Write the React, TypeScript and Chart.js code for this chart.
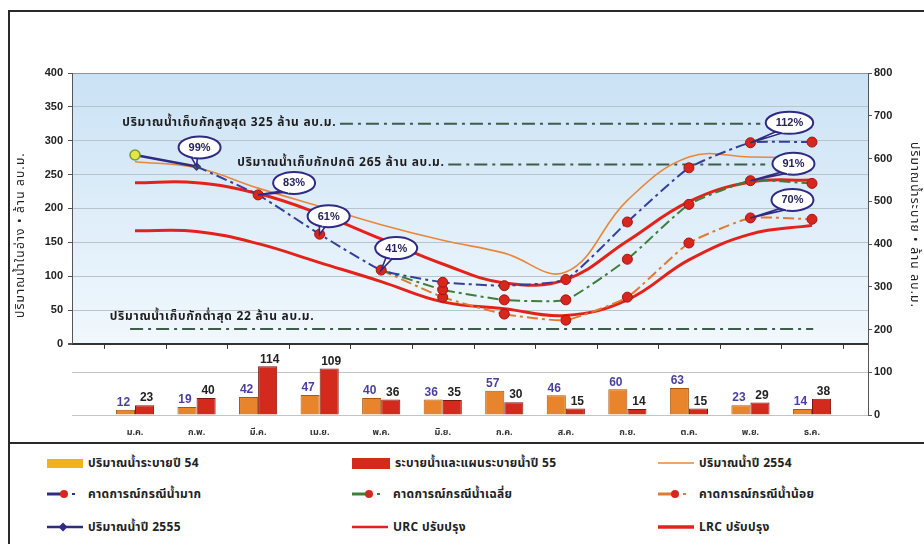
import React, { useEffect, useRef } from 'react';
import { Chart, registerables } from 'chart.js';

Chart.register(...registerables);

// ---------------- data ----------------
const MONTHS = ['ม.ค.', 'ก.พ.', 'มี.ค.', 'เม.ย.', 'พ.ค.', 'มิ.ย.', 'ก.ค.', 'ส.ค.', 'ก.ย.', 'ต.ค.', 'พ.ย.', 'ธ.ค.'];
const RELEASE_54 = [12, 19, 42, 47, 40, 36, 57, 46, 60, 63, 23, 14];
const RELEASE_55 = [23, 40, 114, 109, 36, 35, 30, 15, 14, 15, 29, 38];
const VOLUME_2554 = [269, 260, 230, 203, 176, 153, 134, 106, 212, 276, 276, 274];
const VOLUME_2555 = [279, 262, null, null, null, null, null, null, null, null, null, null];
const FORECAST_HIGH = [null, 262, 220, 162, 109, 91, 86, 95, 180, 260, 297, 298];
const FORECAST_AVG = [null, null, null, null, 109, 80, 65, 65, 125, 206, 241, 237];
const FORECAST_LOW = [null, null, null, null, 109, 69, 44, 35, 69, 149, 186, 184];
const URC_CURVE = [238, 238, 222, 192, 155, 118, 90, 95, 152, 210, 239, 242];
const LRC_CURVE = [167, 166, 148, 120, 92, 62, 52, 42, 65, 124, 162, 175];
const NORMAL_STORAGE = 265;
const REF_VALUES = [325, 265, 22];
const REF_LABELS = [
  'ปริมาณน้ำเก็บกักสูงสุด 325 ล้าน ลบ.ม.',
  'ปริมาณน้ำเก็บกักปกติ 265 ล้าน ลบ.ม.',
  'ปริมาณน้ำเก็บกักต่ำสุด 22 ล้าน ลบ.ม.',
];
const LEFT_TICK_STEP = 50;
const RIGHT_TICK_STEP = 100;
const CALLOUT_SERIES = ['high', 'high', 'high', 'high', 'high', 'avg', 'low'];
const CALLOUT_MONTHS = [1, 2, 3, 4, 10, 10, 10];

const NAMES = {
  rel54: 'ปริมาณน้ำระบายปี 54',
  rel55: 'ระบายน้ำและแผนระบายน้ำปี 55',
  v2554: 'ปริมาณน้ำปี 2554',
  high: 'คาดการณ์กรณีน้ำมาก',
  avg: 'คาดการณ์กรณีน้ำเฉลี่ย',
  low: 'คาดการณ์กรณีน้ำน้อย',
  v2555: 'ปริมาณน้ำปี 2555',
  urc: 'URC ปรับปรุง',
  lrc: 'LRC ปรับปรุง',
};

// ---------------- layout / style ----------------
const X_MIN = -1.024;
const X_MAX = 11.91;
const LEFT_MIN = -105;
const LEFT_MAX = 400;
const RIGHT_MAX = 800;
const REF_SPANS = [[3.33, 10.16], [5.09, 10.24], [-0.08, 11.02]];
const REF_TEXT = [
  { align: 'right', x: 3.27, dy: 2 },
  { align: 'right', x: 5.03, dy: 2 },
  { align: 'left', x: -0.41, dy: -9 },
];
const CALLOUT_OFFSETS = [[3, -19], [36, -12], [9, -18], [15, -22], [39, -20], [43, -17], [42, -18]];

const NUM_FONT = "'Liberation Sans Narrow', 'Liberation Sans', Arial, sans-serif";
const THAI_FONT = "Tahoma, 'Noto Sans Thai', 'Noto Sans Thai UI', Garuda, Loma, Kinnari, 'DejaVu Sans', sans-serif";

const C = {
  orangeBar: '#e8842c',
  orangeBarEdge: '#a9560f',
  redBar: '#d42a1e',
  redBarEdge: '#7d1610',
  line2554: '#e8873a',
  rule: '#e3231b',
  navy: '#2f2a84',
  high: '#33409a',
  avg: '#3f7d3a',
  low: '#e07a2e',
  ref: '#3e5c48',
  dot: '#d7261e',
  dotEdge: '#a8140f',
  legendYellow: '#f2b21c',
};

const pts = (arr: (number | null)[]) =>
  arr.map((v, i) => (v == null ? null : { x: i, y: v })).filter(Boolean) as { x: number; y: number }[];

const seriesValues: Record<string, (number | null)[]> = {
  high: FORECAST_HIGH,
  avg: FORECAST_AVG,
  low: FORECAST_LOW,
};

function drawCallout(ctx: CanvasRenderingContext2D, px: number, py: number, cx: number, cy: number, text: string) {
  ctx.font = `bold 11px ${NUM_FONT}`;
  const tw = ctx.measureText(text).width;
  const rx = tw / 2 + 10;
  const ry = 11;
  const bx1 = cx - rx * 0.45;
  const bx2 = cx - rx * 0.1;
  const by = cy + ry * 0.7;
  ctx.beginPath();
  ctx.moveTo(bx1, by);
  ctx.lineTo(px, py);
  ctx.lineTo(bx2, by + 1);
  ctx.closePath();
  ctx.fillStyle = '#ffffff';
  ctx.fill();
  ctx.strokeStyle = C.navy;
  ctx.lineWidth = 1.6;
  ctx.stroke();
  ctx.beginPath();
  ctx.ellipse(cx, cy, rx, ry, 0, 0, Math.PI * 2);
  ctx.fillStyle = '#ffffff';
  ctx.fill();
  ctx.lineWidth = 2;
  ctx.stroke();
  ctx.beginPath();
  ctx.moveTo(bx1 + 2, by - 3);
  ctx.lineTo(bx2 - 1, by - 3);
  ctx.lineTo((bx1 + bx2) / 2, by + 3);
  ctx.closePath();
  ctx.fillStyle = '#ffffff';
  ctx.fill();
  ctx.fillStyle = '#26235e';
  ctx.textAlign = 'center';
  ctx.textBaseline = 'middle';
  ctx.fillText(text, cx, cy + 0.5);
}

const overlayPlugin = {
  id: 'overlay',
  beforeDraw(chart: any) {
    const { ctx, chartArea: a, scales } = chart;
    const y0 = scales.y.getPixelForValue(0);
    const g = ctx.createLinearGradient(0, a.top, 0, y0);
    g.addColorStop(0, '#cae2f5');
    g.addColorStop(1, '#f1f8fd');
    ctx.save();
    ctx.fillStyle = g;
    ctx.fillRect(a.left, a.top, a.right - a.left, y0 - a.top);
    ctx.restore();
  },
  afterDatasetsDraw(chart: any) {
    const { ctx, chartArea: a, scales } = chart;
    const xs = scales.x;
    const ys = scales.y;
    const y0 = ys.getPixelForValue(0);
    ctx.save();

    ctx.strokeStyle = '#555';
    ctx.lineWidth = 1;
    ctx.beginPath();
    ctx.moveTo(a.left + 0.5, a.top);
    ctx.lineTo(a.left + 0.5, y0);
    ctx.stroke();

    ctx.strokeStyle = '#333';
    for (let i = 0; i <= MONTHS.length; i++) {
      const px = Math.round(xs.getPixelForValue(i - 0.5)) + 0.5;
      ctx.beginPath();
      ctx.moveTo(px, y0);
      ctx.lineTo(px, y0 + 5);
      ctx.stroke();
    }

    const barSets = [
      { idx: chart.data.datasets.findIndex((d: any) => d.label === NAMES.rel54), vals: RELEASE_54, color: '#4b3f9e', dx: -2 },
      { idx: chart.data.datasets.findIndex((d: any) => d.label === NAMES.rel55), vals: RELEASE_55, color: '#222222', dx: 2 },
    ];
    ctx.font = `bold 12px ${NUM_FONT}`;
    ctx.textAlign = 'center';
    ctx.textBaseline = 'bottom';
    barSets.forEach((b) => {
      const meta = chart.getDatasetMeta(b.idx);
      meta.data.forEach((el: any, i: number) => {
        ctx.fillStyle = b.color;
        ctx.fillText(String(b.vals[i]), el.x + b.dx, el.y - 1);
      });
    });

    ctx.font = `bold 12px ${THAI_FONT}`;
    (ctx as any).letterSpacing = '0.7px';
    ctx.fillStyle = '#1d1d1d';
    ctx.textBaseline = 'alphabetic';
    REF_VALUES.forEach((v, i) => {
      const t = REF_TEXT[i];
      ctx.textAlign = t.align as CanvasTextAlign;
      ctx.fillText(REF_LABELS[i], xs.getPixelForValue(t.x), ys.getPixelForValue(v) + t.dy);
    });
    (ctx as any).letterSpacing = '0px';

    CALLOUT_SERIES.forEach((s, i) => {
      const m = CALLOUT_MONTHS[i];
      const v = seriesValues[s][m] as number;
      const px = xs.getPixelForValue(m);
      const py = ys.getPixelForValue(v);
      const [dx, dy] = CALLOUT_OFFSETS[i];
      drawCallout(ctx, px, py, px + dx, py + dy, `${Math.round((v / NORMAL_STORAGE) * 100)}%`);
    });

    ctx.fillStyle = '#222';
    ctx.font = `12px ${THAI_FONT}`;
    (ctx as any).letterSpacing = '1.2px';
    ctx.textAlign = 'center';
    ctx.textBaseline = 'middle';
    ctx.save();
    ctx.translate(22, 235);
    ctx.rotate(-Math.PI / 2);
    ctx.fillText('ปริมาณน้ำในอ่าง • ล้าน ลบ.ม.', 0, 0);
    ctx.restore();
    ctx.save();
    ctx.translate(913, 225);
    ctx.rotate(Math.PI / 2);
    ctx.fillText('ปริมาณน้ำระบาย • ล้าน ลบ.ม.', 0, 0);
    ctx.restore();
    (ctx as any).letterSpacing = '0px';

    ctx.restore();
  },
};

function LegendSwatch({ kind }: { kind: string }) {
  if (kind === 'rel54') return <div style={{ width: 36, height: 9, background: C.legendYellow }} />;
  if (kind === 'rel55') return <div style={{ width: 38, height: 11, background: C.redBar }} />;
  const line = (color: string, w: number, len = 36) => (
    <svg width={36} height={12} style={{ display: 'block' }}>
      <line x1={0} y1={6} x2={len} y2={6} stroke={color} strokeWidth={w} />
    </svg>
  );
  if (kind === 'v2554') return line(C.line2554, 1.5);
  if (kind === 'urc') return line(C.rule, 2.5);
  if (kind === 'lrc') return line(C.rule, 3.5);
  if (kind === 'v2555')
    return (
      <svg width={36} height={12} style={{ display: 'block' }}>
        <line x1={0} y1={6} x2={36} y2={6} stroke={C.navy} strokeWidth={2.5} />
        <polygon points="16,1.5 20.5,6 16,10.5 11.5,6" fill={C.navy} />
      </svg>
    );
  const col = kind === 'high' ? C.navy : kind === 'avg' ? C.avg : C.low;
  return (
    <svg width={36} height={12} style={{ display: 'block' }}>
      <line x1={0} y1={6} x2={17} y2={6} stroke={col} strokeWidth={3} />
      <circle cx={17} cy={6} r={4} fill={C.dot} />
      <line x1={25} y1={6} x2={28} y2={6} stroke={col} strokeWidth={2} />
    </svg>
  );
}

const LEGEND_ROWS = [
  ['rel54', 'rel55', 'v2554'],
  ['high', 'avg', 'low'],
  ['v2555', 'urc', 'lrc'],
];
const LEGEND_COL_X = [47, 352, 658];
const LEGEND_ROW_Y = [463, 494, 527];

export default function App() {
  const ref = useRef<HTMLCanvasElement>(null);

  useEffect(() => {
    document.body.style.margin = '0';
    const canvas = ref.current as HTMLCanvasElement;
    Chart.defaults.font.family = NUM_FONT;

    const forecastDs = (label: string, vals: (number | null)[], color: string, hideFirst: boolean) => ({
      type: 'line' as const,
      label,
      data: pts(vals),
      yAxisID: 'y',
      borderColor: color,
      borderWidth: 2,
      borderDash: [11, 4, 3, 4],
      tension: 0.15,
      pointRadius: pts(vals).map((_, i) => (hideFirst && i === 0 ? 0 : 5)),
      pointBackgroundColor: C.dot,
      pointBorderColor: C.dotEdge,
      pointBorderWidth: 1,
    });

    const refDs = REF_VALUES.map((v, i) => ({
      type: 'line' as const,
      label: REF_LABELS[i],
      data: [
        { x: REF_SPANS[i][0], y: v },
        { x: REF_SPANS[i][1], y: v },
      ],
      yAxisID: 'y',
      borderColor: C.ref,
      borderWidth: 2,
      borderDash: [13, 5, 3, 5],
      pointRadius: 0,
    }));

    const chart = new Chart(canvas, {
      type: 'bar',
      data: {
        datasets: [
          forecastDs(NAMES.high, FORECAST_HIGH, C.high, true),
          forecastDs(NAMES.avg, FORECAST_AVG, C.avg, true),
          forecastDs(NAMES.low, FORECAST_LOW, C.low, true),
          {
            type: 'line',
            label: NAMES.v2555,
            data: pts(VOLUME_2555),
            yAxisID: 'y',
            borderColor: C.navy,
            borderWidth: 2.5,
            pointStyle: ['circle', 'rectRot'],
            pointRadius: [5, 3.5],
            pointBackgroundColor: ['#e4e646', '#5a5a7a'],
            pointBorderColor: ['#7a9a2a', '#3a3a5a'],
            pointBorderWidth: 1.5,
          },
          {
            type: 'line',
            label: NAMES.urc,
            data: pts(URC_CURVE),
            yAxisID: 'y',
            borderColor: C.rule,
            borderWidth: 3,
            tension: 0.4,
            pointRadius: 0,
          },
          {
            type: 'line',
            label: NAMES.lrc,
            data: pts(LRC_CURVE),
            yAxisID: 'y',
            borderColor: C.rule,
            borderWidth: 3,
            tension: 0.4,
            pointRadius: 0,
          },
          {
            type: 'line',
            label: NAMES.v2554,
            data: pts(VOLUME_2554),
            yAxisID: 'y',
            borderColor: C.line2554,
            borderWidth: 1.6,
            tension: 0.4,
            pointRadius: 0,
          },
          ...refDs,
          {
            type: 'bar',
            label: NAMES.rel54,
            data: pts(RELEASE_54),
            yAxisID: 'y2',
            backgroundColor: C.orangeBar,
            borderColor: C.orangeBarEdge,
            borderWidth: 1,
            categoryPercentage: 0.62,
            barPercentage: 1,
          },
          {
            type: 'bar',
            label: NAMES.rel55,
            data: pts(RELEASE_55),
            yAxisID: 'y2',
            backgroundColor: C.redBar,
            borderColor: C.redBarEdge,
            borderWidth: 1,
            categoryPercentage: 0.62,
            barPercentage: 1,
          },
        ] as any,
      },
      options: {
        responsive: false,
        animation: false,
        layout: { padding: { top: 73, left: 0, right: 0, bottom: 0 } },
        plugins: {
          legend: { display: false },
          tooltip: { enabled: false },
        },
        scales: {
          x: {
            type: 'linear',
            offset: false,
            min: X_MIN,
            max: X_MAX,
            afterBuildTicks: (s: any) => {
              s.ticks = MONTHS.map((_, i) => ({ value: i }));
            },
            afterFit: (s: any) => {
              s.height = 25;
            },
            ticks: {
              autoSkip: false,
              maxRotation: 0,
              padding: 13,
              color: '#333',
              font: { size: 9, weight: 'bold', family: THAI_FONT },
              callback: (v: any) => MONTHS[Math.round(Number(v))] ?? '',
            },
            grid: { display: false, drawTicks: false, offset: false },
            border: { display: false },
          },
          y: {
            type: 'linear',
            position: 'left',
            min: LEFT_MIN,
            max: LEFT_MAX,
            afterFit: (s: any) => {
              s.width = 72;
            },
            ticks: {
              stepSize: LEFT_TICK_STEP,
              padding: 5,
              color: '#222',
              font: { size: 11, weight: 'bold' },
              callback: (v: any) => (Number(v) >= 0 ? String(v) : ''),
            },
            grid: {
              tickLength: 4,
              color: (c: any) => {
                const v = c.tick?.value;
                if (v == null || v < 0) return 'rgba(0,0,0,0)';
                if (v === 0) return '#333';
                if (v === LEFT_MAX) return '#8a949c';
                return '#b9c3cb';
              },
              lineWidth: (c: any) => (c.tick?.value === 0 ? 2 : 1),
              tickColor: (c: any) => (c.tick?.value < 0 ? 'rgba(0,0,0,0)' : '#555'),
            },
            border: { display: false },
          },
          y2: {
            type: 'linear',
            position: 'right',
            min: 0,
            max: RIGHT_MAX,
            afterFit: (s: any) => {
              s.width = 56;
            },
            ticks: {
              stepSize: RIGHT_TICK_STEP,
              padding: 2,
              color: '#222',
              font: { size: 11, weight: 'bold' },
            },
            grid: {
              tickLength: 4,
              color: (c: any) => (c.tick?.value <= RIGHT_TICK_STEP ? '#c4c4c4' : 'rgba(0,0,0,0)'),
              tickColor: '#555',
            },
            border: { display: true, color: '#555' },
          },
        },
      } as any,
      plugins: [overlayPlugin],
    });
    return () => chart.destroy();
  }, []);

  return (
    <div style={{ position: 'relative', width: 924, height: 544, background: '#fff', overflow: 'hidden' }}>
      <canvas ref={ref} width={924} height={440} style={{ position: 'absolute', left: 0, top: 0, display: 'block' }} />
      <div style={{ position: 'absolute', left: 8, top: 10, width: 916, height: 2, background: '#2a2a2a' }} />
      <div style={{ position: 'absolute', left: 8, top: 10, width: 2, height: 534, background: '#2a2a2a' }} />
      <div style={{ position: 'absolute', left: 8, top: 442, width: 916, height: 2, background: '#2a2a2a' }} />
      {LEGEND_ROWS.map((row, r) =>
        row.map((k, c) => (
          <div
            key={k}
            style={{
              position: 'absolute',
              left: LEGEND_COL_X[c],
              top: LEGEND_ROW_Y[r] - 9,
              height: 18,
              display: 'flex',
              alignItems: 'center',
              gap: 5,
              whiteSpace: 'nowrap',
              font: `bold 12px ${THAI_FONT}`,
              letterSpacing: '0.3px',
              color: '#222',
            }}
          >
            <LegendSwatch kind={k} />
            <span>{(NAMES as any)[k]}</span>
          </div>
        ))
      )}
    </div>
  );
}
